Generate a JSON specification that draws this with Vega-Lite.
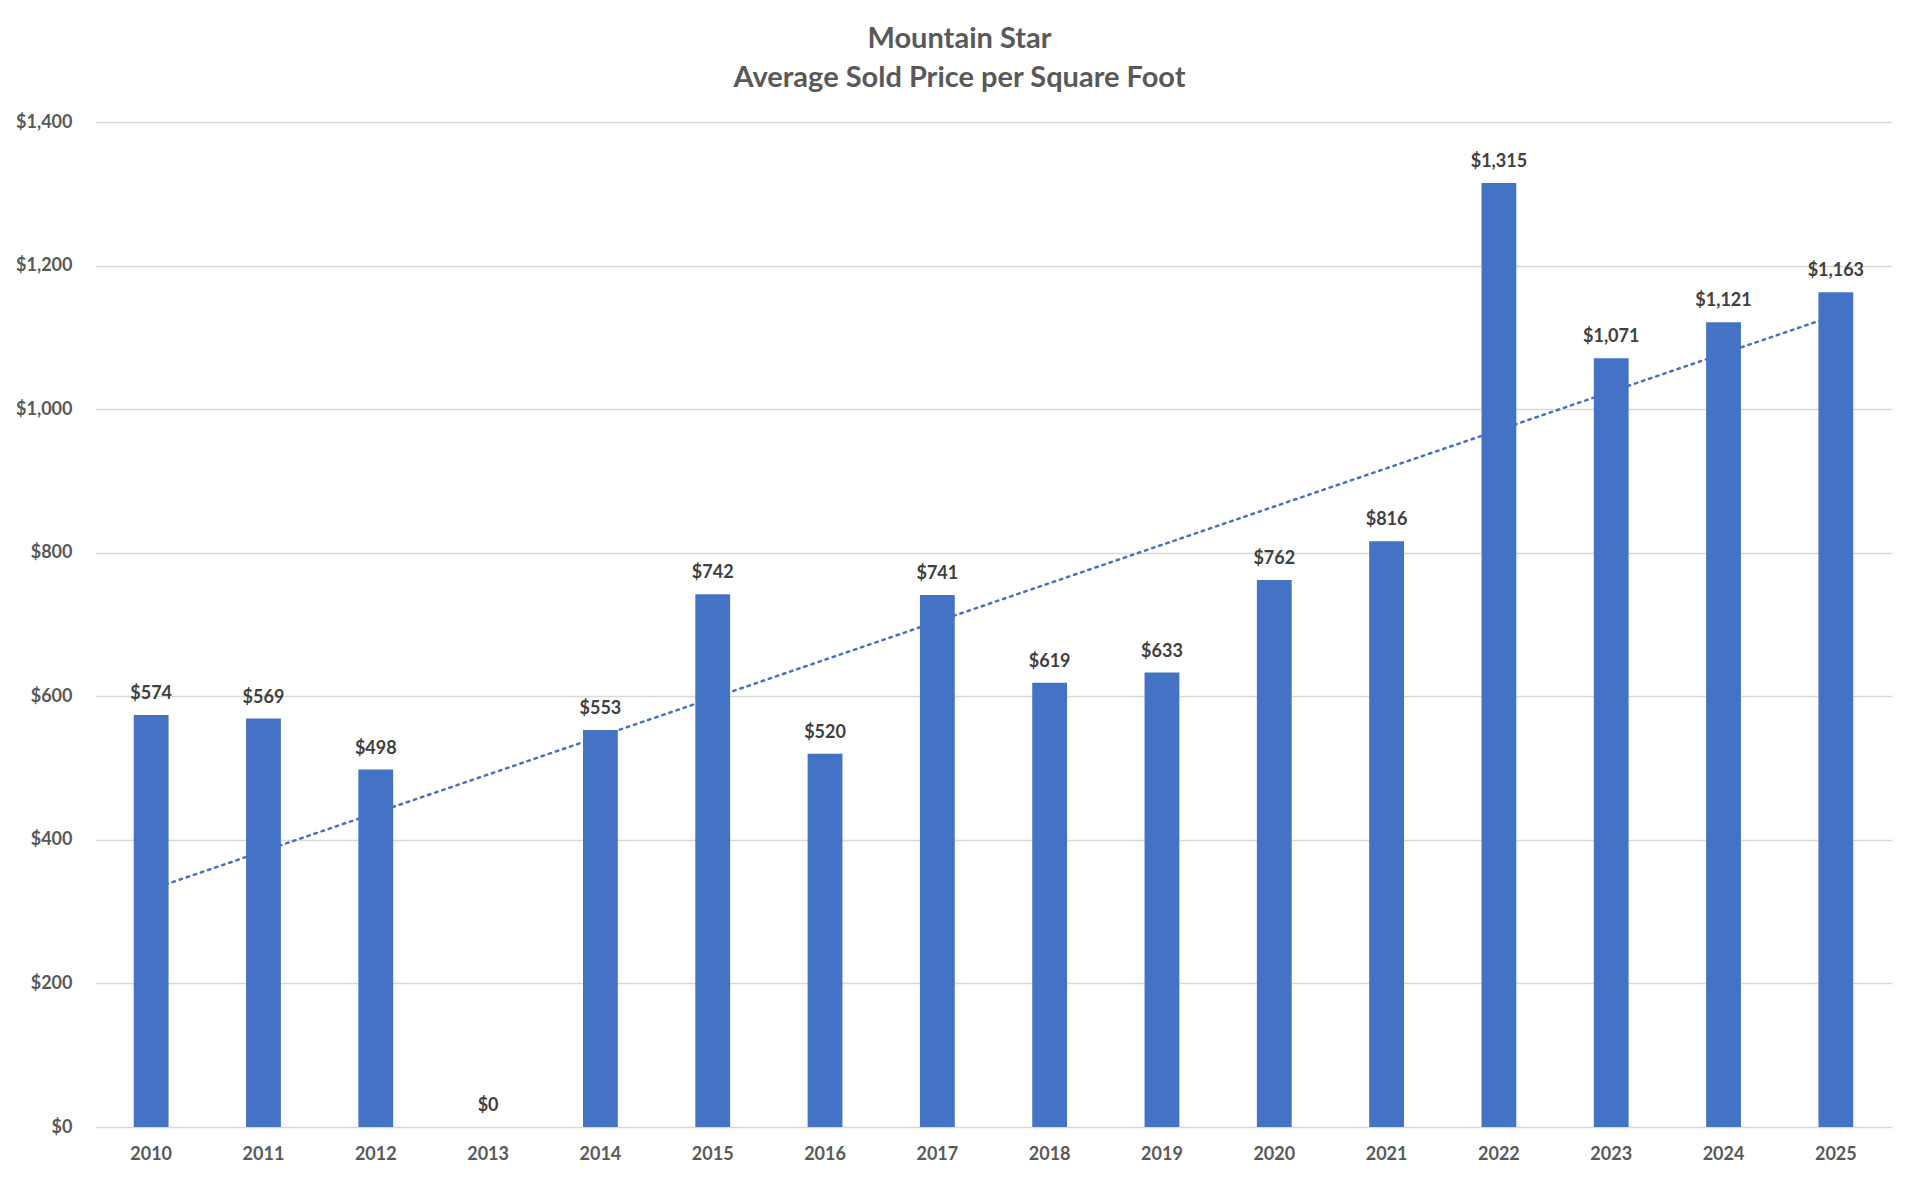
{
  "$schema": "https://vega.github.io/schema/vega-lite/v6.json",
  "autosize": "none",
  "width": 1797,
  "height": 1005,
  "padding": {"left": 95, "top": 122, "right": 28, "bottom": 57},
  "background": "white",
  "config": {
    "view": {"stroke": null},
    "font": "Lato"
  },
  "title": {
    "text": ["Mountain Star", "Average Sold Price per Square Foot"],
    "anchor": "middle",
    "dx": -34,
    "offset": 20,
    "fontSize": 29,
    "lineHeight": 39,
    "color": "#595959",
    "font": "Lato",
    "fontWeight": "bold"
  },
  "data": {
    "values": [
      {"year": "2010", "price": 574, "trend": 331},
      {"year": "2011", "price": 569},
      {"year": "2012", "price": 498},
      {"year": "2013", "price": 0},
      {"year": "2014", "price": 553},
      {"year": "2015", "price": 742},
      {"year": "2016", "price": 520},
      {"year": "2017", "price": 741},
      {"year": "2018", "price": 619},
      {"year": "2019", "price": 633},
      {"year": "2020", "price": 762},
      {"year": "2021", "price": 816},
      {"year": "2022", "price": 1315},
      {"year": "2023", "price": 1071},
      {"year": "2024", "price": 1121},
      {"year": "2025", "price": 1163, "trend": 1131}
    ]
  },
  "encoding": {
    "x": {
      "field": "year",
      "type": "ordinal",
      "scale": {"paddingInner": 0.69, "paddingOuter": 0.345},
      "axis": {
        "title": null,
        "labelAngle": 0,
        "ticks": false,
        "domain": false,
        "labelFont": "Lato",
        "labelFontSize": 18,
        "labelFontWeight": "bold",
        "labelColor": "#595959",
        "labelPadding": 18
      }
    }
  },
  "layer": [
    {
      "transform": [{"filter": "isValid(datum.trend)"}],
      "mark": {"type": "line", "color": "#4472C4", "strokeWidth": 2.5, "strokeDash": [2.5, 5], "strokeCap": "round"},
      "encoding": {
        "y": {"field": "trend", "type": "quantitative"}
      }
    },
    {
      "mark": {"type": "bar", "color": "#4472C4"},
      "encoding": {
        "y": {
          "field": "price",
          "type": "quantitative",
          "scale": {"domain": [0, 1400], "nice": false},
          "axis": {
            "title": null,
            "values": [0, 200, 400, 600, 800, 1000, 1200, 1400],
            "format": "$,.0f",
            "ticks": false,
            "domain": false,
            "gridColor": "#d9d9d9",
            "gridWidth": 1.3,
            "labelFont": "Lato",
            "labelFontSize": 18,
            "labelFontWeight": "bold",
            "labelColor": "#595959",
            "labelPadding": 23
          }
        }
      }
    },
    {
      "mark": {"type": "text", "baseline": "bottom", "dy": -12, "fontSize": 18, "fontWeight": "bold", "color": "#404040", "font": "Lato"},
      "encoding": {
        "y": {"field": "price", "type": "quantitative"},
        "text": {"field": "price", "type": "quantitative", "format": "$,.0f"}
      }
    }
  ]
}
